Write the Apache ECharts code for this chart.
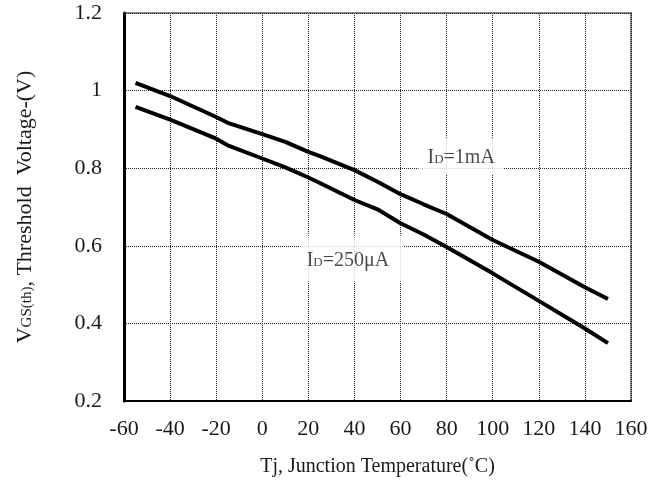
<!DOCTYPE html>
<html>
<head>
<meta charset="utf-8">
<script src="https://cdn.jsdelivr.net/npm/echarts@6/dist/echarts.min.js"></script>
<style>
  html, body { margin: 0; padding: 0; background: #fff; }
  #chart { width: 664px; height: 488px; }
</style>
</head>
<body>
<div id="chart"></div>
<script>
// Junction temperature (°C) sample points
const temps = [-55, -40, -20, -15, 0, 10, 20, 25, 40, 50, 60, 70, 80, 100, 120, 140, 150];
// Gate threshold voltage (V) at ID = 1 mA
const vth1mA = [1.02, 0.986, 0.932, 0.917, 0.888, 0.868, 0.842, 0.831, 0.795, 0.765, 0.733, 0.707, 0.682, 0.615, 0.559, 0.493, 0.463];
// Gate threshold voltage (V) at ID = 250 µA
const vth250uA = [0.958, 0.925, 0.876, 0.859, 0.825, 0.802, 0.776, 0.762, 0.718, 0.694, 0.658, 0.629, 0.597, 0.529, 0.458, 0.387, 0.349];

const xTicks = { min: -60, max: 160, step: 20 };
const yTicks = { min: 0.2, max: 1.2, step: 0.2 };

const FONT = '"Liberation Serif", "Times New Roman", serif';
const INK = '#1a1a1a';

const chart = echarts.init(document.getElementById('chart'), null, { renderer: 'canvas' });

const curve = (vals) => temps.map((t, i) => [t, vals[i]]);

const idLabel = (rest) => ({
  formatter: '{i|I}{d|D}{r|' + rest + '}',
  rich: {
    i: { fontSize: 20, fontFamily: FONT, color: INK, lineHeight: 22, verticalAlign: 'bottom' },
    d: { fontSize: 13, fontFamily: FONT, color: INK, lineHeight: 22, verticalAlign: 'bottom', padding: [0, 0, 2, 0] },
    r: { fontSize: 20, fontFamily: FONT, color: INK, lineHeight: 22, verticalAlign: 'bottom' }
  }
});

chart.setOption({
  animation: false,
  backgroundColor: '#fff',
  grid: {
    left: 124, right: 33, top: 13, bottom: 87,
    show: true, borderColor: '#8a8a8a', borderWidth: 2
  },
  xAxis: {
    type: 'value',
    min: xTicks.min, max: xTicks.max, interval: xTicks.step,
    axisLine: { onZero: false, lineStyle: { color: '#000', width: 2 } },
    axisTick: { show: false },
    splitLine: { lineStyle: { color: '#222', width: 1, type: [1, 1] } },
    axisLabel: { fontSize: 22, fontFamily: FONT, color: INK, margin: 17 },
    name: 'Tj, Junction Temperature(˚C)',
    nameLocation: 'middle',
    nameGap: 56,
    nameTextStyle: { fontSize: 20, fontFamily: FONT, color: INK }
  },
  yAxis: {
    type: 'value',
    min: yTicks.min, max: yTicks.max, interval: yTicks.step,
    axisLine: { onZero: false, lineStyle: { color: '#000', width: 3 } },
    axisTick: { show: false },
    splitLine: { lineStyle: { color: '#222', width: 1, type: [1, 1] } },
    axisLabel: {
      fontSize: 22, fontFamily: FONT, color: INK, margin: 22,
      formatter: (v) => String(+v.toFixed(1))
    },
    name: '{v|V}{s|GS(th)}{t|, Threshold  Voltage-(V)}',
    nameLocation: 'middle',
    nameGap: 88,
    nameTextStyle: {
      rich: {
        v: { fontSize: 22, fontFamily: FONT, color: INK, lineHeight: 24, verticalAlign: 'bottom' },
        s: { fontSize: 15, fontFamily: FONT, color: INK, lineHeight: 24, verticalAlign: 'bottom', padding: [0, 0, 1, 0] },
        t: { fontSize: 22, fontFamily: FONT, color: INK, lineHeight: 24, verticalAlign: 'bottom' }
      }
    }
  },
  series: [
    {
      name: 'ID=1mA',
      type: 'line',
      data: curve(vth1mA),
      showSymbol: false,
      symbol: 'none',
      lineStyle: { color: '#000', width: 4 },
      z: 3
    },
    {
      name: 'ID=250µA',
      type: 'line',
      data: curve(vth250uA),
      showSymbol: false,
      symbol: 'none',
      lineStyle: { color: '#000', width: 4 },
      z: 3
    },
    {
      // curve captions on white boxes that mask the grid behind them
      type: 'scatter',
      symbolSize: 0,
      silent: true,
      z: 4,
      data: [
        {
          value: [86.3, 0.830],
          label: Object.assign({
            show: true, position: 'inside',
            backgroundColor: '#fff', padding: [8, 9, 7, 9]
          }, idLabel('=1mA'))
        },
        {
          value: [38.7, 0.567],
          label: Object.assign({
            show: true, position: 'inside',
            backgroundColor: '#fff', padding: [13, 14, 11, 7]
          }, idLabel('=250μA'))
        }
      ]
    }
  ]
});
</script>
</body>
</html>
